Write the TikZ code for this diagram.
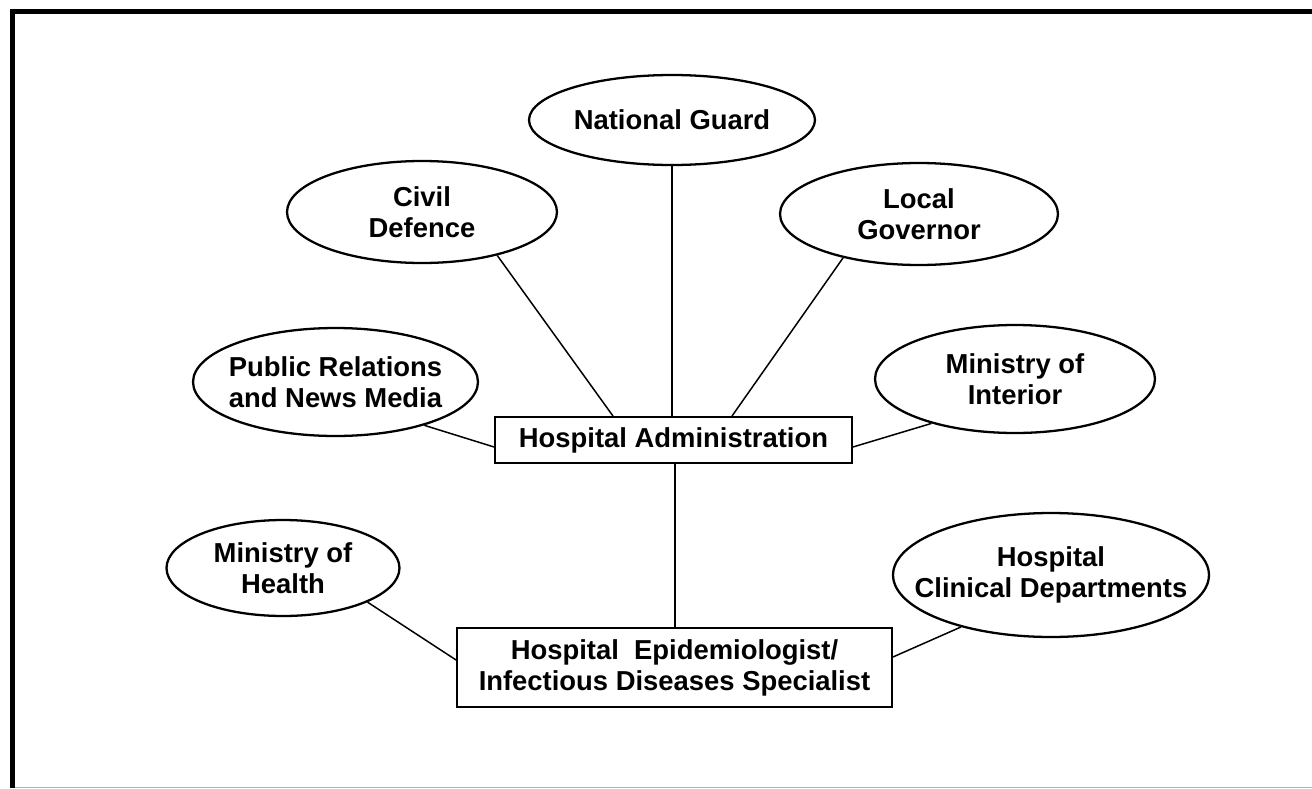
\documentclass[tikz,border=0pt]{standalone}
\usepackage{fontspec}
\setmainfont{Liberation Sans}
\usetikzlibrary{shapes.geometric}
\newcommand{\lblfont}{\fontsize{15.6}{17.6}\selectfont\bfseries}
\begin{document}
\begin{tikzpicture}[x=0.02cm,y=-0.02cm,
  oval/.style={ellipse, draw, line width=1.3pt, inner sep=0pt},
  box/.style={rectangle, draw, line width=1.1pt, inner sep=0pt, align=center, font=\lblfont},
  lbl/.style={align=center, font=\lblfont, inner sep=0pt},
  link/.style={line width=0.85pt},
  frame/.style={line width=0.1cm, line join=miter}]
\useasboundingbox (0,0) rectangle (1312,788);

% outer frame
\draw[frame] (12.5,788) -- (12.5,11.5) -- (1312,11.5);
\draw[gray!60, line width=0.02cm] (15,787.5) -- (1312,787.5);

% central boxes
\node[box, minimum width=7.14cm, minimum height=0.92cm] (adm) at (673.5,440) {Hospital Administration};
\node[box, minimum width=8.70cm, minimum height=1.58cm] (epi) at (674.5,667.5) {Hospital\ \ Epidemiologist/\\Infectious Diseases Specialist};

% surrounding agencies
\node[oval, minimum width=5.72cm, minimum height=1.80cm] (ng) at (672,120) {};
\node[lbl] at (ng) {National Guard};

\node[oval, minimum width=5.40cm, minimum height=2.04cm] (cd) at (422,212) {};
\node[lbl] at (cd) {Civil\\Defence};

\node[oval, minimum width=5.56cm, minimum height=2.04cm] (lg) at (919,214) {};
\node[lbl] at (lg) {Local\\Governor};

\node[oval, minimum width=5.70cm, minimum height=2.16cm] (pr) at (335.5,382) {};
\node[lbl] at (pr) {Public Relations\\and News Media};

\node[oval, minimum width=5.60cm, minimum height=2.16cm] (mi) at (1015,379) {};
\node[lbl] at (mi) {Ministry of\\Interior};

\node[oval, minimum width=4.66cm, minimum height=1.92cm] (mh) at (283,568) {};
\node[lbl] at (mh) {Ministry of\\Health};

\node[oval, minimum width=6.32cm, minimum height=2.48cm] (hcd) at (1051,575) {};
\node[lbl] at (hcd) {Hospital\\Clinical Departments};

% connectors
\draw[link] (ng.south) -- (ng.south |- adm.north);
\draw[link] (cd.-30) -- (adm.north -| 613,0);
\draw[link] (lg.-150) -- (adm.north -| 732,0);
\draw[link] (pr.-26) -- (adm.west |- 0,447);
\draw[link] (mi.-152) -- (adm.east |- 0,447);
\draw[link] (adm.south -| 675,0) -- (epi.north -| 675,0);
\draw[link] (mh.-22) -- (epi.west |- 0,660);
\draw[link] (hcd.-150) -- (epi.east |- 0,657);
\end{tikzpicture}
\end{document}
